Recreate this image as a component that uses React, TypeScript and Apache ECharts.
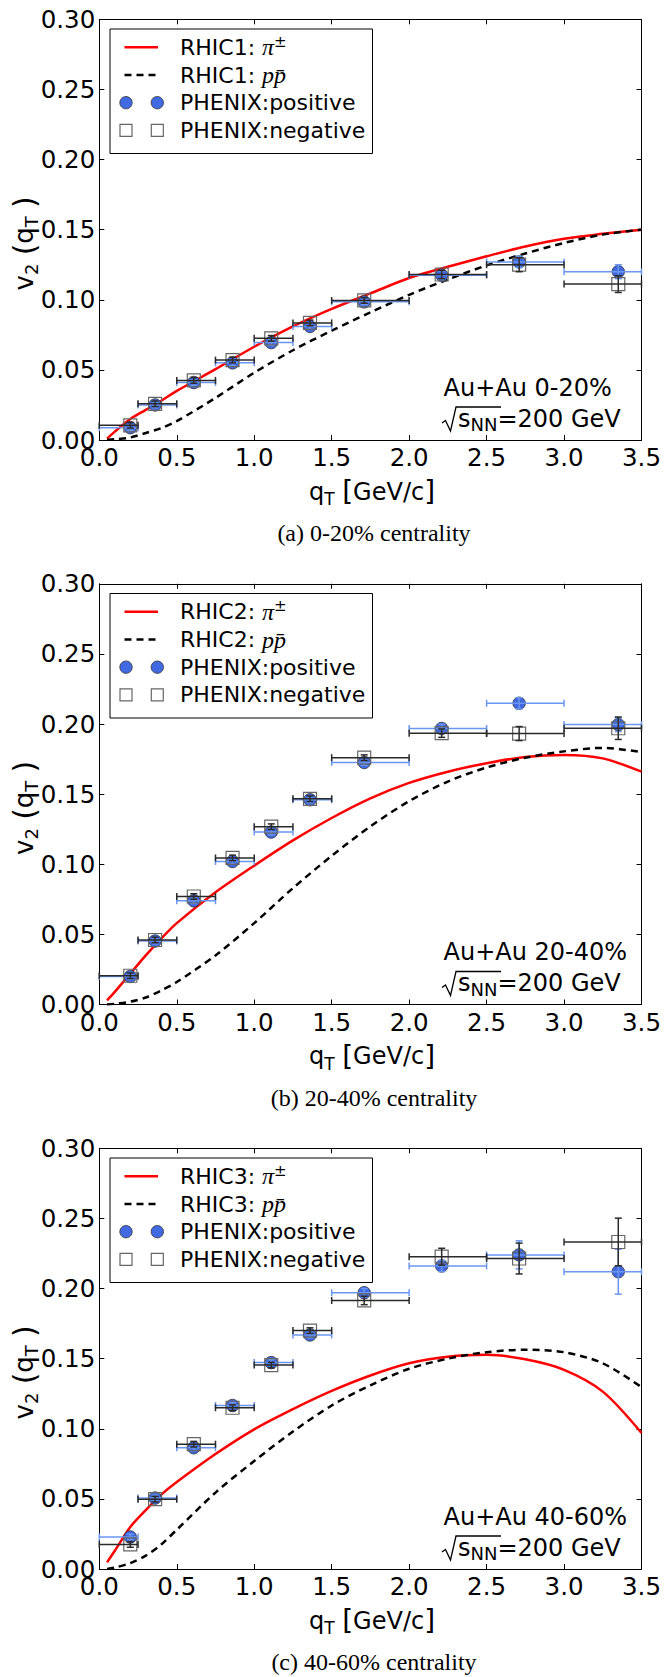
import React, { useEffect, useRef } from "react";
import * as echarts from "echarts";

// ---------- data ----------
const PANEL_LABELS = ["RHIC1", "RHIC2", "RHIC3"];
const CENTRALITY = ["0-20%", "20-40%", "40-60%"];
const CAPTIONS = ["(a) 0-20% centrality", "(b) 20-40% centrality", "(c) 40-60% centrality"];

const X_TICKS_MAX = 3.5;
const Y_TICKS_MAX = 0.3;

// PHENIX data bins
const QT = [0.2, 0.36, 0.61, 0.86, 1.11, 1.36, 1.71, 2.21, 2.71, 3.35];
const BIN_LO = [0, 0.25, 0.5, 0.75, 1.0, 1.25, 1.5, 2.0, 2.5, 3.0];
const BIN_HI = [0.25, 0.5, 0.75, 1.0, 1.25, 1.5, 2.0, 2.5, 3.0, 3.5];

const POS_1 = [0.0088, 0.025, 0.041, 0.055, 0.0695, 0.081, 0.0985, 0.1175, 0.127, 0.12];
const POS_ERR_1 = [0.002, 0.002, 0.002, 0.002, 0.002, 0.002, 0.002, 0.003, 0.004, 0.005];
const NEG_1 = [0.0105, 0.0258, 0.0425, 0.057, 0.0725, 0.0835, 0.0995, 0.118, 0.125, 0.1112];
const NEG_ERR_1 = [0.002, 0.002, 0.002, 0.002, 0.002, 0.002, 0.002, 0.003, 0.005, 0.006];

const POS_2 = [0.02, 0.0453, 0.074, 0.102, 0.123, 0.146, 0.1726, 0.1968, 0.2148, 0.1996];
const POS_ERR_2 = [0.002, 0.002, 0.002, 0.002, 0.002, 0.002, 0.002, 0.003, 0.004, 0.005];
const NEG_2 = [0.0205, 0.046, 0.077, 0.1045, 0.1268, 0.1467, 0.176, 0.1935, 0.1932, 0.197];
const NEG_ERR_2 = [0.002, 0.002, 0.002, 0.002, 0.002, 0.002, 0.002, 0.003, 0.005, 0.008];

const POS_3 = [0.0228, 0.0506, 0.0865, 0.1166, 0.1472, 0.1669, 0.197, 0.2161, 0.224, 0.212];
const POS_ERR_3 = [0.002, 0.002, 0.002, 0.002, 0.002, 0.002, 0.003, 0.004, 0.01, 0.016];
const NEG_3 = [0.0175, 0.0498, 0.089, 0.115, 0.1454, 0.17, 0.1915, 0.2227, 0.2214, 0.2332];
const NEG_ERR_3 = [0.002, 0.002, 0.002, 0.002, 0.002, 0.002, 0.003, 0.006, 0.011, 0.017];

// model curves
const CURVE_X = [0.05, 0.1, 0.2, 0.3, 0.4, 0.5, 0.75, 1.0, 1.25, 1.5, 1.75, 2.0, 2.25, 2.5, 2.75, 3.0, 3.25, 3.5];
const PION_1 = [0.001, 0.006, 0.015, 0.0215, 0.028, 0.035, 0.0505, 0.0665, 0.081, 0.0935, 0.1045, 0.1155, 0.1235, 0.131, 0.138, 0.1435, 0.147, 0.15];
const PROTON_1 = [0.0, 0.0005, 0.0018, 0.005, 0.0085, 0.0135, 0.03, 0.048, 0.064, 0.078, 0.091, 0.1035, 0.1145, 0.1245, 0.133, 0.1405, 0.1465, 0.15];
const PION_2 = [0.003, 0.009, 0.022, 0.035, 0.047, 0.058, 0.08, 0.099, 0.117, 0.133, 0.147, 0.158, 0.166, 0.172, 0.1765, 0.178, 0.1755, 0.166];
const PROTON_2 = [0.0, 0.0005, 0.002, 0.005, 0.01, 0.016, 0.035, 0.058, 0.083, 0.106, 0.127, 0.145, 0.159, 0.169, 0.176, 0.1805, 0.183, 0.18];
const PION_3 = [0.0047, 0.013, 0.03, 0.042, 0.053, 0.062, 0.082, 0.0996, 0.114, 0.127, 0.138, 0.1467, 0.1514, 0.1527, 0.1495, 0.142, 0.1265, 0.097];
const PROTON_3 = [0.0, 0.001, 0.0042, 0.0095, 0.0175, 0.028, 0.0545, 0.077, 0.098, 0.1166, 0.131, 0.1428, 0.15, 0.1546, 0.1564, 0.1546, 0.1467, 0.1297];

const PANELS = [
  { pion: PION_1, proton: PROTON_1, pos: POS_1, posErr: POS_ERR_1, neg: NEG_1, negErr: NEG_ERR_1 },
  { pion: PION_2, proton: PROTON_2, pos: POS_2, posErr: POS_ERR_2, neg: NEG_2, negErr: NEG_ERR_2 },
  { pion: PION_3, proton: PROTON_3, pos: POS_3, posErr: POS_ERR_3, neg: NEG_3, negErr: NEG_ERR_3 },
];

// ---------- layout / style ----------
const W = 664;
const H = 1677;
const PANEL_TOP = [19.3, 583.8, 1148.3];
const GRID_LEFT = 99.3;
const GRID_W = 545.4;
const GRID_H = 420.7;
const SANS = "DejaVu Sans";
const SERIF = "Liberation Serif";
const RED = "#ff0000";
const BLUE = "#4169e1";
const BLUE_BAR = "#6a96f0";
const DARK_BAR = "#2a2a2a";
const TICK_FONT = 24.5;

function errRenderer(color: string) {
  return (params: any, api: any) => {
    const x = api.value(0);
    const y = api.value(1);
    const xlo = api.value(2);
    const xhi = api.value(3);
    const e = api.value(4);
    const pL = api.coord([xlo, y]);
    const pR = api.coord([xhi, y]);
    const pT = api.coord([x, y + e]);
    const pB = api.coord([x, y - e]);
    const st = { stroke: color, lineWidth: 1.5, fill: "none" };
    const c = 3.5;
    const seg = (x1: number, y1: number, x2: number, y2: number) => ({
      type: "line",
      shape: { x1, y1, x2, y2 },
      style: st,
    });
    return {
      type: "group",
      children: [
        seg(pL[0], pL[1], pR[0], pR[1]),
        seg(pL[0], pL[1] - c, pL[0], pL[1] + c),
        seg(pR[0], pR[1] - c, pR[0], pR[1] + c),
        seg(pT[0], pT[1], pB[0], pB[1]),
        seg(pT[0] - c, pT[1], pT[0] + c, pT[1]),
        seg(pB[0] - c, pB[1], pB[0] + c, pB[1]),
      ],
    };
  };
}

const axisCommon = {
  axisLine: { show: true, onZero: false, lineStyle: { color: "#000", width: 1 } },
  axisTick: { show: true, inside: true, length: 5, lineStyle: { color: "#000", width: 1 } },
  splitLine: { show: false },
};

function buildOption() {
  const grids: any[] = [];
  const xAxes: any[] = [];
  const yAxes: any[] = [];
  const series: any[] = [];
  const graphics: any[] = [];

  PANELS.forEach((p, i) => {
    const T = PANEL_TOP[i];
    grids.push({ left: GRID_LEFT, top: T, width: GRID_W, height: GRID_H, containLabel: false });

    xAxes.push({
      ...axisCommon,
      gridIndex: i,
      type: "value",
      position: "bottom",
      min: 0,
      max: X_TICKS_MAX,
      interval: 0.5,
      axisLabel: {
        show: true,
        margin: 5,
        fontSize: TICK_FONT,
        fontFamily: SANS,
        color: "#000",
        formatter: (v: number) => v.toFixed(1),
      },
    });
    yAxes.push({
      ...axisCommon,
      gridIndex: i,
      type: "value",
      position: "left",
      min: 0,
      max: Y_TICKS_MAX,
      interval: 0.05,
      axisLabel: {
        show: true,
        margin: 4,
        padding: [0, 0, 8, 0],
        fontSize: TICK_FONT,
        fontFamily: SANS,
        color: "#000",
        formatter: (v: number) => v.toFixed(2),
      },
    });
  });
  PANELS.forEach((p, i) => {
    xAxes.push({
      ...axisCommon,
      gridIndex: i,
      type: "value",
      position: "top",
      min: 0,
      max: X_TICKS_MAX,
      interval: 0.5,
      axisLabel: { show: false },
    });
    yAxes.push({
      ...axisCommon,
      gridIndex: i,
      type: "value",
      position: "right",
      min: 0,
      max: Y_TICKS_MAX,
      interval: 0.05,
      axisLabel: { show: false },
    });
  });

  PANELS.forEach((p, i) => {
    const base = { xAxisIndex: i, yAxisIndex: i, silent: true };
    series.push({
      ...base,
      type: "line",
      name: `${PANEL_LABELS[i]} pion`,
      data: CURVE_X.map((x, k) => [x, p.pion[k]]),
      showSymbol: false,
      smooth: 0.3,
      lineStyle: { color: RED, width: 2.5 },
      z: 2,
    });
    series.push({
      ...base,
      type: "line",
      name: `${PANEL_LABELS[i]} proton`,
      data: CURVE_X.map((x, k) => [x, p.proton[k]]),
      showSymbol: false,
      smooth: 0.3,
      lineStyle: { color: "#000", width: 2.5, type: [7, 5] },
      z: 2,
    });
    series.push({
      ...base,
      type: "scatter",
      name: "PHENIX:positive",
      data: QT.map((x, k) => [x, p.pos[k]]),
      symbol: "circle",
      symbolSize: 12.5,
      itemStyle: { color: BLUE, borderColor: "#333", borderWidth: 0.8, opacity: 1 },
      z: 3,
    });
    series.push({
      ...base,
      type: "custom",
      name: "positive err",
      data: QT.map((x, k) => [x, p.pos[k], BIN_LO[k], BIN_HI[k], p.posErr[k]]),
      renderItem: errRenderer(BLUE_BAR),
      encode: { x: 0, y: 1 },
      z: 4,
    });
    series.push({
      ...base,
      type: "scatter",
      name: "PHENIX:negative",
      data: QT.map((x, k) => [x, p.neg[k]]),
      symbol: "rect",
      symbolSize: 13,
      itemStyle: { color: "rgba(255,255,255,0)", borderColor: "#666", borderWidth: 1.2, opacity: 1 },
      z: 5,
    });
    series.push({
      ...base,
      type: "custom",
      name: "negative err",
      data: QT.map((x, k) => [x, p.neg[k], BIN_LO[k], BIN_HI[k], p.negErr[k]]),
      renderItem: errRenderer(DARK_BAR),
      encode: { x: 0, y: 1 },
      z: 6,
    });

    // ---- graphics: legend, annotations, labels, captions ----
    const T = PANEL_TOP[i];
    const B = T + GRID_H;
    const rows = [T + 28, T + 55.7, T + 83.4, T + 111.1];
    const txt = { fontFamily: SANS, fontSize: 22, fill: "#000", color: "#000", lineHeight: 26 };
    const mathRich = {
      t: txt,
      m: { fontFamily: SERIF, fontStyle: "italic", fontSize: 24, fill: "#000", color: "#000", lineHeight: 26 },
      sup: { fontFamily: SANS, fontSize: 15, fill: "#000", color: "#000", verticalAlign: "top", lineHeight: 15 },
    };
    const subRich = (big: number, small: number) => ({
      a: { fontFamily: SANS, fontSize: big, fill: "#000", color: "#000", lineHeight: 32 },
      p: { fontFamily: SANS, fontSize: big + 4, fill: "#000", color: "#000", lineHeight: 32 },
      b: { fontFamily: SANS, fontSize: small, fill: "#000", color: "#000", verticalAlign: "bottom", lineHeight: small + 1 },
    });
    graphics.push(
      {
        type: "rect",
        shape: { x: 110, y: T + 9.7, width: 262.5, height: 124.5 },
        style: { fill: "#fff", stroke: "#000", lineWidth: 1 },
        z: 100,
      },
      {
        type: "line",
        shape: { x1: 124.5, y1: rows[0], x2: 158, y2: rows[0] },
        style: { stroke: RED, lineWidth: 2.5 },
        z: 101,
      },
      {
        type: "line",
        shape: { x1: 124.5, y1: rows[1], x2: 158, y2: rows[1] },
        style: { stroke: "#000", lineWidth: 2.5, lineDash: [7, 5] },
        z: 101,
      },
      { type: "circle", shape: { cx: 126, cy: rows[2], r: 6.2 }, style: { fill: BLUE, stroke: "#333", lineWidth: 0.8 }, z: 101 },
      { type: "circle", shape: { cx: 157.3, cy: rows[2], r: 6.2 }, style: { fill: BLUE, stroke: "#333", lineWidth: 0.8 }, z: 101 },
      { type: "rect", shape: { x: 120, y: rows[3] - 6, width: 12, height: 12 }, style: { fill: "#fff", stroke: "#666", lineWidth: 1.2 }, z: 101 },
      { type: "rect", shape: { x: 151.3, y: rows[3] - 6, width: 12, height: 12 }, style: { fill: "#fff", stroke: "#666", lineWidth: 1.2 }, z: 101 },
      {
        type: "text",
        x: 180,
        y: rows[0],
        style: { text: `{t|${PANEL_LABELS[i]}: }{m|π}{sup|±}`, rich: mathRich, align: "left", verticalAlign: "middle" },
        z: 101,
      },
      {
        type: "text",
        x: 180,
        y: rows[1],
        style: { text: `{t|${PANEL_LABELS[i]}: }{m|pp\u0304}`, rich: mathRich, align: "left", verticalAlign: "middle" },
        z: 101,
      },
      {
        type: "text",
        x: 180,
        y: rows[2],
        style: { text: "PHENIX:positive", fontFamily: SANS, fontSize: 22, fill: "#000", align: "left", verticalAlign: "middle" },
        z: 101,
      },
      {
        type: "text",
        x: 180,
        y: rows[3],
        style: { text: "PHENIX:negative", fontFamily: SANS, fontSize: 22, fill: "#000", align: "left", verticalAlign: "middle" },
        z: 101,
      },
      // annotation
      {
        type: "text",
        x: 443.5,
        y: B - 52.3,
        style: { text: `Au+Au ${CENTRALITY[i]}`, fontFamily: SANS, fontSize: 24, fill: "#000", align: "left", verticalAlign: "middle" },
        z: 101,
      },
      {
        type: "polyline",
        shape: { points: [[442, B - 17], [445.5, B - 19.5], [450.5, B - 9], [456, B - 33], [501, B - 33]] },
        style: { stroke: "#000", lineWidth: 1.3, fill: "none" },
        z: 101,
      },
      {
        type: "text",
        x: 458,
        y: B - 21.4,
        style: {
          text: "{a|s}{b|NN}{a|=200 GeV}",
          rich: {
            a: { fontFamily: SANS, fontSize: 24, fill: "#000", color: "#000", lineHeight: 30 },
            b: { fontFamily: SANS, fontSize: 18, fill: "#000", color: "#000", verticalAlign: "bottom", lineHeight: 18 },
          },
          align: "left",
          verticalAlign: "middle",
        },
        z: 101,
      },
      // y label
      {
        type: "text",
        x: 24,
        y: T + 224,
        rotation: Math.PI / 2,
        style: {
          text: "{a|v}{b|2}{a| }{p|(}{a|q}{b|T}{a| }{p|)}",
          rich: subRich(26, 18),
          align: "center",
          verticalAlign: "middle",
        },
        z: 101,
      },
      // x label
      {
        type: "text",
        x: 372,
        y: B + 51.7,
        style: {
          text: "{a|q}{b|T}{a| }{p|[}{a|GeV/c}{p|]}",
          rich: subRich(24, 17),
          align: "center",
          verticalAlign: "middle",
        },
        z: 101,
      },
      // caption
      {
        type: "text",
        x: 374,
        y: B + 93,
        style: { text: CAPTIONS[i], fontFamily: SERIF, fontSize: 24, fill: "#000", align: "center", verticalAlign: "middle" },
        z: 101,
      }
    );
  });

  return {
    animation: false,
    backgroundColor: "#fff",
    grid: grids,
    xAxis: xAxes,
    yAxis: yAxes,
    series,
    graphic: { elements: graphics },
  };
}

export default function App() {
  const ref = useRef<HTMLDivElement>(null);
  useEffect(() => {
    if (!ref.current) return;
    const chart = echarts.init(ref.current, null, { renderer: "svg", width: W, height: H });
    chart.setOption(buildOption() as any);
    return () => chart.dispose();
  }, []);
  return (
    <div
      ref={ref}
      style={{ position: "absolute", left: 0, top: 0, width: W, height: H, background: "#fff" }}
    />
  );
}
